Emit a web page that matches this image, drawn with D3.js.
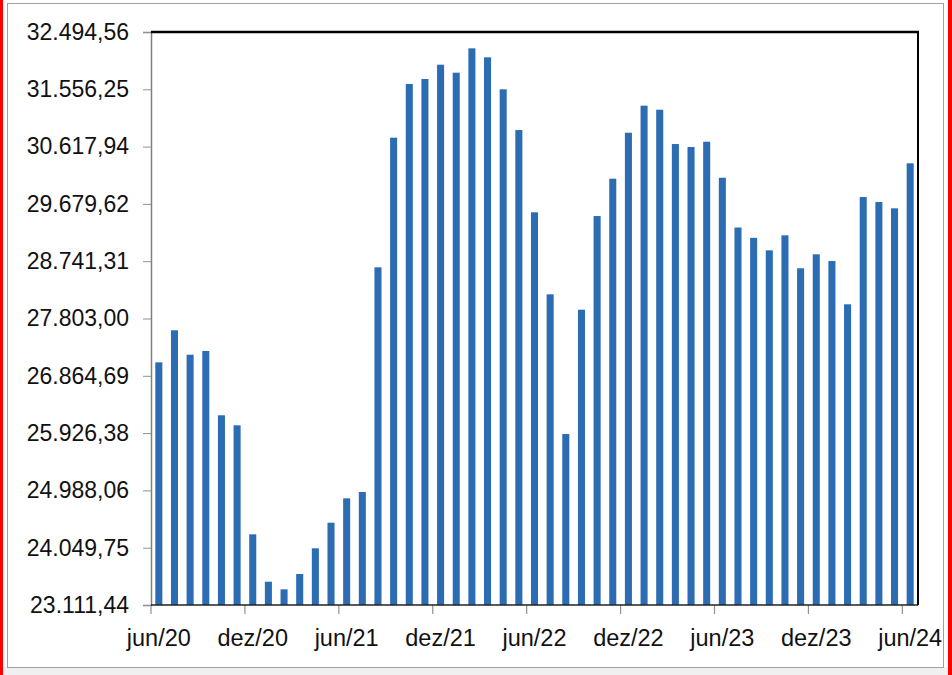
<!DOCTYPE html>
<html>
<head>
<meta charset="utf-8">
<style>
body { margin: 0; background: #fff; }
svg text { font-family: "Liberation Sans", Arial, sans-serif; fill: #111; }
.bar { fill: #2b6cb3; }
</style>
<script src="https://cdn.jsdelivr.net/npm/d3@7"></script>
</head>
<body>
<svg width="952" height="675"></svg>
<script>

// months jun/20 .. jun/24
var categories = [
  "jun/20","jul/20","ago/20","set/20","out/20","nov/20","dez/20",
  "jan/21","fev/21","mar/21","abr/21","mai/21","jun/21","jul/21","ago/21","set/21","out/21","nov/21","dez/21",
  "jan/22","fev/22","mar/22","abr/22","mai/22","jun/22","jul/22","ago/22","set/22","out/22","nov/22","dez/22",
  "jan/23","fev/23","mar/23","abr/23","mai/23","jun/23","jul/23","ago/23","set/23","out/23","nov/23","dez/23",
  "jan/24","fev/24","mar/24","abr/24","mai/24","jun/24"
];

var values = [
  27085, 27610, 27210, 27271, 26218, 26054, 24269,
  23493, 23368, 23619, 24040, 24459, 24858, 24962, 28641, 30764, 31643, 31725, 31959,
  31828, 32227, 32080, 31556, 30889, 29542, 28199, 25911, 27947, 29481, 30092, 30845,
  31288, 31222, 30660, 30611, 30698, 30108, 29293, 29124, 28919, 29165, 28625, 28854,
  28744, 28035, 29792, 29710, 29607, 30344
];

var yTicks = [23111.44, 24049.75, 24988.06, 25926.38, 26864.69, 27803.00,
              28741.31, 29679.62, 30617.94, 31556.25, 32494.56];

var xLabels = ["jun/20","dez/20","jun/21","dez/21","jun/22","dez/22","jun/23","dez/23","jun/24"];

var svg = d3.select("svg"),
    plot = {left: 151, right: 918, top: 32, bottom: 605};

var ptBR = d3.formatLocale({decimal: ",", thousands: ".", grouping: [3], currency: ["R$", ""]}),
    fmt = ptBR.format(",.2f");

// frame round the chart
svg.append("rect").attr("x", 0).attr("y", 667).attr("width", 952).attr("height", 8).attr("fill", "#f0f0f0");
svg.append("rect").attr("x", 7.5).attr("y", 3.5).attr("width", 936).attr("height", 664)
    .attr("fill", "none").attr("stroke", "#a0a0a0").attr("stroke-width", 1);
svg.append("rect").attr("x", 0).attr("y", 0).attr("width", 3).attr("height", 675).attr("fill", "#ff0000");
svg.append("rect").attr("x", 948).attr("y", 0).attr("width", 4).attr("height", 675).attr("fill", "#ff0000");

var x = d3.scaleBand()
    .domain(categories)
    .range([plot.left, plot.right])
    .paddingInner(0.55)
    .paddingOuter(0.275);

var y = d3.scaleLinear()
    .domain([yTicks[0], yTicks[yTicks.length - 1]])
    .range([plot.bottom, plot.top]);

svg.append("g")
  .selectAll("rect")
  .data(values)
  .enter().append("rect")
    .attr("class", "bar")
    .attr("x", function(d, i) { return x(categories[i]); })
    .attr("y", function(d) { return y(d); })
    .attr("width", x.bandwidth())
    .attr("height", function(d) { return y(yTicks[0]) - y(d); });

// y axis
var yAxis = svg.append("g")
    .attr("transform", "translate(" + plot.left + ",0)")
    .call(d3.axisLeft(y).tickValues(yTicks).tickFormat(fmt).tickSize(8).tickPadding(14));
yAxis.select(".domain").attr("stroke", "#808080").attr("stroke-width", 1.5);
yAxis.selectAll(".tick line").attr("stroke", "#909090");
yAxis.selectAll("text").attr("font-size", 23).attr("fill", "#111")
    .attr("font-family", "'Liberation Sans', Arial, sans-serif");

// x axis: ticks on category boundaries, labels on category centres
function boundary(c) { return x(c) + x.bandwidth() / 2 - x.step() / 2; }

svg.append("g")
  .selectAll("line")
  .data(xLabels)
  .enter().append("line")
    .attr("x1", boundary).attr("x2", boundary)
    .attr("y1", plot.bottom).attr("y2", plot.bottom + 9)
    .attr("stroke", "#909090").attr("stroke-width", 1.2);

svg.append("g")
  .selectAll("text")
  .data(xLabels)
  .enter().append("text")
    .attr("x", function(d) { return x(d) + x.bandwidth() / 2; })
    .attr("y", 646)
    .attr("text-anchor", "middle")
    .attr("font-size", 23.5)
    .text(function(d) { return d; });

// plot border: black top/right, dark baseline
svg.append("line").attr("x1", plot.left).attr("x2", plot.right + 1).attr("y1", plot.top).attr("y2", plot.top)
    .attr("stroke", "#000").attr("stroke-width", 2.5);
svg.append("line").attr("x1", plot.right).attr("x2", plot.right).attr("y1", plot.top).attr("y2", plot.bottom)
    .attr("stroke", "#000").attr("stroke-width", 2);
svg.append("line").attr("x1", plot.left).attr("x2", plot.right).attr("y1", plot.bottom).attr("y2", plot.bottom)
    .attr("stroke", "#222").attr("stroke-width", 1.5);

</script>
</body>
</html>
